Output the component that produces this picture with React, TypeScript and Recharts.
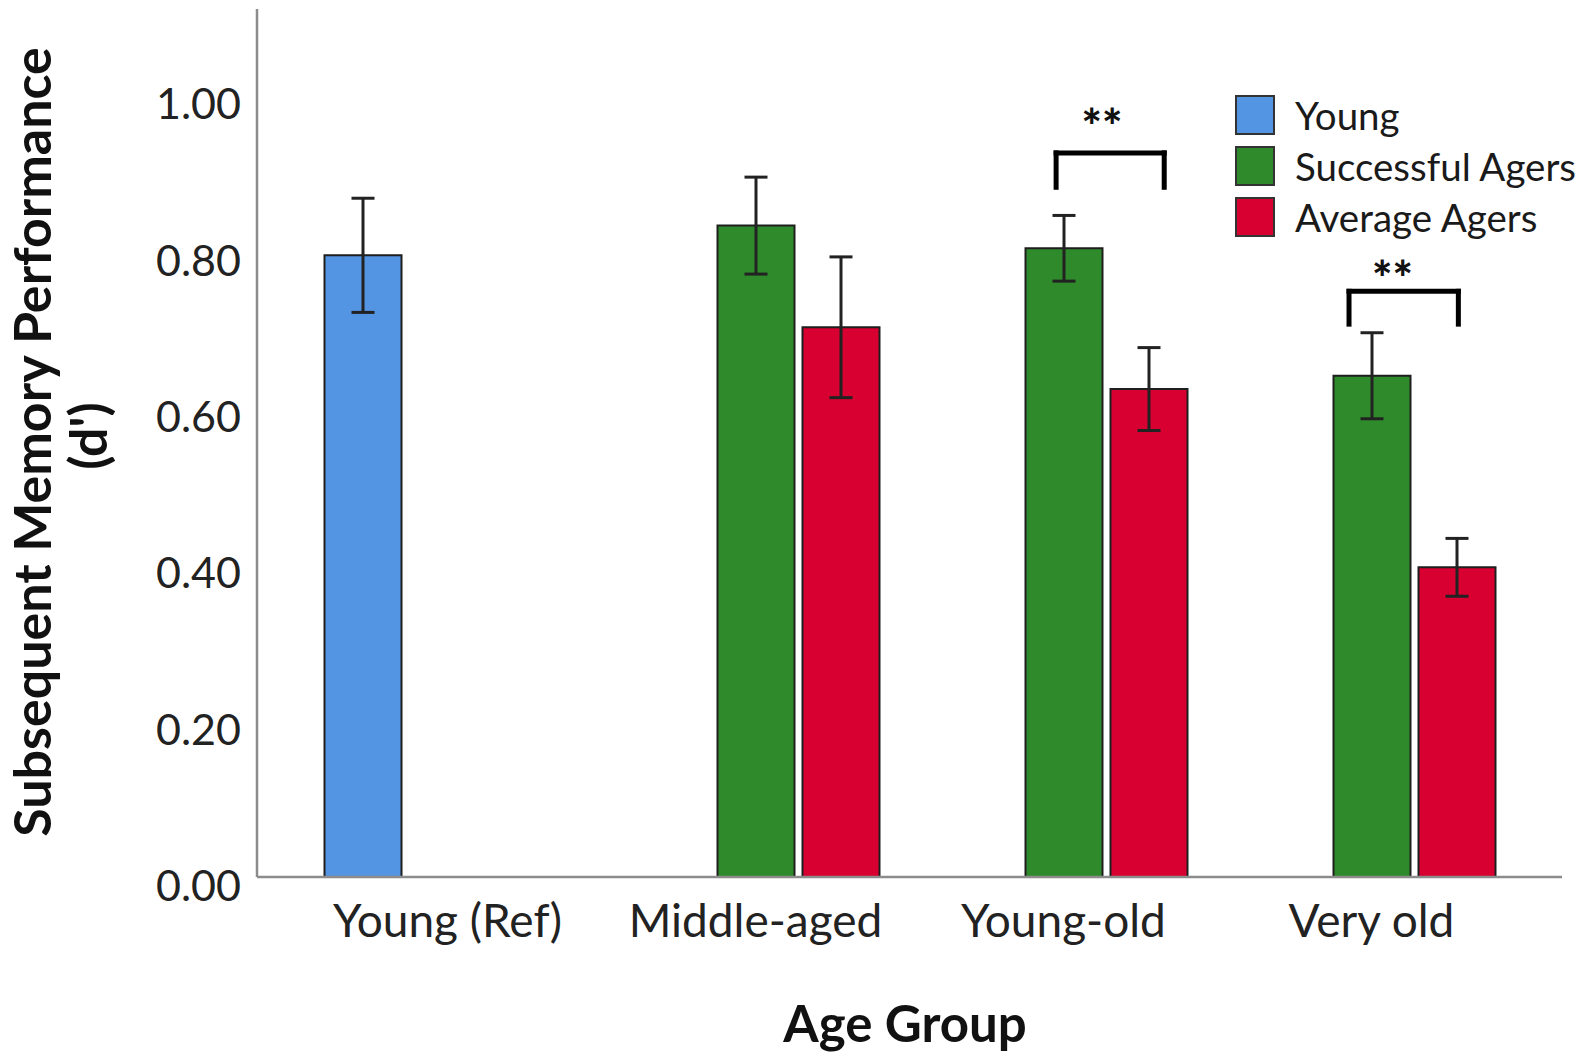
import React from 'react';
import {
  BarChart,
  Bar,
  XAxis,
  YAxis,
  ErrorBar,
  ReferenceLine,
  ReferenceDot,
  Legend,
  Customized,
} from 'recharts';

const categories = ['Young (Ref)', 'Middle-aged', 'Young-old', 'Very old'];
const youngValues = [0.795, null, null, null];
const youngErrors = [0.073, null, null, null];
const successfulValues = [null, 0.833, 0.804, 0.641];
const successfulErrors = [null, 0.062, 0.042, 0.055];
const averageValues = [null, 0.703, 0.624, 0.396];
const averageErrors = [null, 0.09, 0.053, 0.037];
const yTicks = [0, 0.2, 0.4, 0.6, 0.8, 1.0];

const seriesKeys = ['young', 'successful', 'average'];
const seriesNames = ['Young', 'Successful Agers', 'Average Agers'];
const seriesColors = ['#5394E3', '#2F8A2C', '#D70030'];

// significance brackets (x in category-index units, y in d')
const bracketStart = [1.976, 2.927];
const bracketEnd = [2.327, 3.282];
const bracketTop = [0.926, 0.749];
const bracketFoot = [0.882, 0.707];
const starX = [2.125, 3.068];
const starY = [0.974, 0.78];
const starText = ['**', '**'];

const data = categories.map((c, i) => ({
  category: c,
  idx: i,
  young: youngValues[i],
  youngErr: youngErrors[i],
  successful: successfulValues[i],
  successfulErr: successfulErrors[i],
  average: averageValues[i],
  averageErr: averageErrors[i],
}));

const FONT = 'Lato, "Noto Sans", sans-serif';
const AXIS_COLOR = '#8c8c8c';

const YTick = (props: any) => {
  const { x, y, payload } = props;
  return (
    <text
      x={x}
      y={y + 9}
      dy="0.355em"
      textAnchor="end"
      fontSize={43}
      fill="#222"
      fontFamily={FONT}
    >
      {Number(payload.value).toFixed(2)}
    </text>
  );
};

const renderLegend = () => (
  <div style={{ display: 'flex', flexDirection: 'column', gap: 11, fontFamily: FONT }}>
    {seriesNames.map((n, i) => (
      <div key={n} style={{ display: 'flex', alignItems: 'center', height: 40 }}>
        <div
          style={{
            width: 36,
            height: 36,
            background: seriesColors[i],
            border: '2px solid #333',
            flexShrink: 0,
          }}
        />
        <span
          style={{
            marginLeft: 20,
            fontSize: 38.5,
            color: '#1a1a1a',
            lineHeight: '40px',
            whiteSpace: 'nowrap',
          }}
        >
          {n}
        </span>
      </div>
    ))}
  </div>
);

const Titles = () => (
  <g fontFamily={FONT} fontWeight={700} fill="#111">
    <text transform="translate(51,442) rotate(-90)" textAnchor="middle" fontSize={52}>
      Subsequent Memory Performance
    </text>
    <text transform="translate(107,436) rotate(-90)" textAnchor="middle" fontSize={52}>
      (d')
    </text>
    <text x={905} y={1042} textAnchor="middle" fontSize={51}>
      Age Group
    </text>
  </g>
);

export default function App() {
  return (
    <div
      style={{
        position: 'absolute',
        left: 0,
        top: 0,
        width: 1584,
        height: 1061,
        background: '#fff',
        fontFamily: FONT,
      }}
    >
      <BarChart
        width={1584}
        height={1061}
        data={data}
        margin={{ top: 9, right: 22, bottom: 0, left: 0 }}
        barGap={8}
        barSize={77}
      >
        <XAxis
          dataKey="category"
          axisLine={{ stroke: AXIS_COLOR, strokeWidth: 2.5 }}
          tickLine={false}
          tickSize={0}
          tickMargin={27}
          height={184}
          padding={{ left: 36.5, right: 36.5 }}
          tick={{ fontSize: 46, fill: '#222', fontFamily: FONT }}
          interval={0}
        />
        <XAxis
          xAxisId="num"
          dataKey="idx"
          type="number"
          domain={[0, 3]}
          allowDataOverflow
          hide
          padding={{ left: 190.5, right: 190.5 }}
        />
        <YAxis
          domain={[0, 1.11]}
          ticks={yTicks}
          allowDataOverflow
          width={257}
          axisLine={{ stroke: AXIS_COLOR, strokeWidth: 2.5 }}
          tickLine={false}
          tickSize={0}
          tickMargin={16}
          tick={<YTick />}
          interval={0}
        />
        {seriesKeys.map((k, i) => (
          <Bar
            key={k}
            dataKey={k}
            name={seriesNames[i]}
            fill={seriesColors[i]}
            stroke="#1e1e1e"
            strokeWidth={2}
            isAnimationActive={false}
          >
            <ErrorBar
              dataKey={k + 'Err'}
              direction="y"
              width={11.5}
              stroke="#222"
              strokeWidth={3}
            />
          </Bar>
        ))}
        {bracketStart.map((s, i) => (
          <ReferenceLine
            key={'h' + i}
            xAxisId="num"
            ifOverflow="visible"
            segment={[
              { x: s, y: bracketTop[i] },
              { x: bracketEnd[i], y: bracketTop[i] },
            ]}
            stroke="#000"
            strokeWidth={5}
            strokeLinecap="square"
          />
        ))}
        {bracketStart.map((s, i) => (
          <ReferenceLine
            key={'l' + i}
            xAxisId="num"
            ifOverflow="visible"
            segment={[
              { x: s, y: bracketTop[i] },
              { x: s, y: bracketFoot[i] },
            ]}
            stroke="#000"
            strokeWidth={5}
            strokeLinecap="square"
          />
        ))}
        {bracketEnd.map((e, i) => (
          <ReferenceLine
            key={'r' + i}
            xAxisId="num"
            ifOverflow="visible"
            segment={[
              { x: e, y: bracketTop[i] },
              { x: e, y: bracketFoot[i] },
            ]}
            stroke="#000"
            strokeWidth={5}
            strokeLinecap="square"
          />
        ))}
        {starX.map((sx, i) => (
          <ReferenceDot
            key={'s' + i}
            xAxisId="num"
            x={sx}
            y={starY[i]}
            r={0}
            ifOverflow="visible"
            shape={(p: any) => (
              <text
                x={p.cx}
                y={p.cy}
                dy="0.6em"
                textAnchor="middle"
                fontSize={48}
                fontWeight={900}
                fontFamily={FONT}
                fill="#111"
              >
                {starText[i]}
              </text>
            )}
          />
        ))}
        <Legend
          layout="vertical"
          align="center"
          verticalAlign="middle"
          content={renderLegend}
          wrapperStyle={{ left: 1235, top: 95, width: 349 }}
        />
        <Customized component={Titles} />
      </BarChart>
    </div>
  );
}
